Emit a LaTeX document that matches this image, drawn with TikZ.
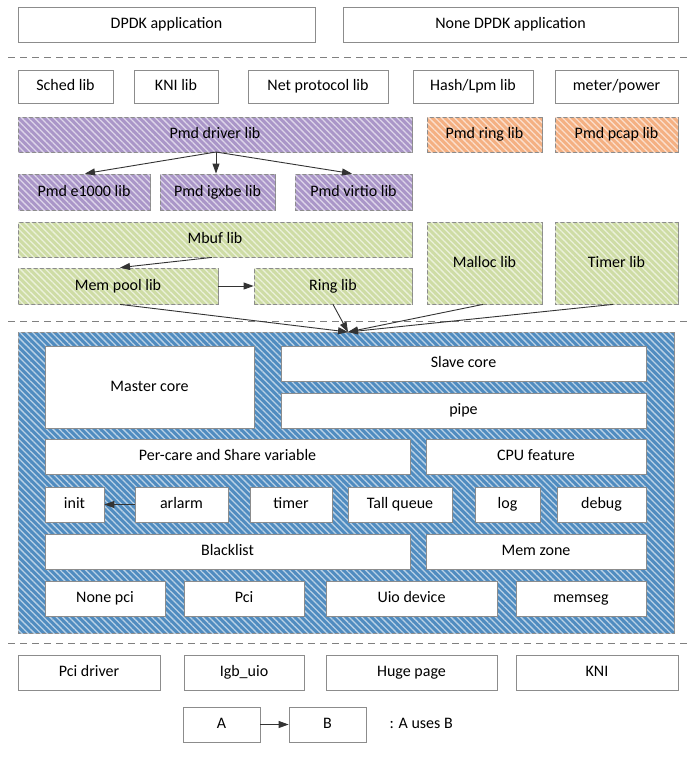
\documentclass[tikz,border=0pt]{standalone}
\usepackage{fontspec}
\setmainfont{Carlito}
\usetikzlibrary{patterns.meta,arrows.meta}
\definecolor{pur}{RGB}{170,150,200}
\definecolor{org}{RGB}{244,176,130}
\definecolor{grn}{RGB}{206,220,165}
\definecolor{blu}{RGB}{80,140,192}
\definecolor{bord}{RGB}{140,140,140}
\tikzset{
 hatch/.style={postaction={pattern={Lines[angle=-45,distance=4.5pt,line width=1.3pt]},pattern color=white!60!#1}},
 bx/.style={draw=bord,line width=0.8pt,fill=white,inner sep=0pt,font=\fontsize{16}{18}\selectfont,text height=11pt,text depth=3pt},
 hbx/.style={bx,fill=#1,hatch=#1},
 arr/.style={-{Triangle[length=10pt,width=7pt]},line width=0.9pt,draw=black!80},
 sep/.style={dashed,draw=gray,line width=1pt,dash pattern=on 7pt off 5pt},
}
\begin{document}
\begin{tikzpicture}[x=1pt,y=-1pt]
\useasboundingbox (0,0) rectangle (697,758);
\def\B#1#2#3#4#5#6#7{\node[#1,minimum width={(#4-#3)*1pt},minimum height={(#6-#5)*1pt}] (#2) at ({(#3+#4)/2},{(#5+#6)/2}) {#7};}
\B{bx}{dpdk}{18}{315}{7}{42}{DPDK application}
\B{bx}{ndpdk}{343}{678}{7}{42}{None DPDK application}
\draw[sep] (8,57) -- (688,57);
\B{bx}{sched}{18}{113}{70}{103}{Sched lib}
\B{bx}{kni}{134}{218}{70}{103}{KNI lib}
\B{bx}{net}{248}{388}{70}{103}{Net protocol lib}
\B{bx}{hash}{413}{533}{70}{103}{Hash/Lpm lib}
\B{bx}{meter}{555}{678}{70}{103}{meter/power}
\B{hbx=pur}{pmd}{18}{412}{117}{152}{Pmd driver lib}
\B{hbx=org}{pring}{427}{542}{117}{152}{Pmd ring lib}
\B{hbx=org}{ppcap}{555}{678}{117}{152}{Pmd pcap lib}
\B{hbx=pur}{e1000}{18}{150}{174}{210}{Pmd e1000 lib}
\B{hbx=pur}{igxbe}{160}{275}{174}{210}{Pmd igxbe lib}
\B{hbx=pur}{virtio}{295}{412}{174}{210}{Pmd virtio lib}
\B{hbx=grn}{mbuf}{18}{412}{222}{257}{Mbuf lib}
\B{hbx=grn}{mempool}{18}{218}{268}{304}{Mem pool lib}
\B{hbx=grn}{ring}{254}{412}{268}{304}{Ring lib}
\B{hbx=grn}{malloc}{427}{542}{222}{304}{Malloc lib}
\B{hbx=grn}{timerlib}{555}{678}{222}{304}{Timer lib}
\draw[sep] (8,321) -- (688,321);
\B{hbx=blu}{eal}{18}{674}{332}{633}{}
\B{bx}{master}{45}{254}{346}{428}{Master core}
\B{bx}{slave}{281}{646}{346}{381}{Slave core}
\B{bx}{pipe}{281}{646}{393}{428}{pipe}
\B{bx}{percore}{45}{410}{439}{474}{Per-care and Share variable}
\B{bx}{cpu}{426}{646}{439}{474}{CPU feature}
\B{bx}{init}{45}{104}{487}{522}{init}
\B{bx}{alarm}{135}{228}{487}{522}{arlarm}
\B{bx}{timer}{250}{332}{487}{522}{timer}
\B{bx}{tall}{348}{452}{487}{522}{Tall queue}
\B{bx}{log}{475}{540}{487}{522}{log}
\B{bx}{debug}{557}{646}{487}{522}{debug}
\B{bx}{black}{45}{410}{534}{569}{Blacklist}
\B{bx}{memzone}{426}{646}{534}{569}{Mem zone}
\B{bx}{nonepci}{45}{165}{581}{616}{None pci}
\B{bx}{pci}{184}{304}{581}{616}{Pci}
\B{bx}{uio}{326}{497}{581}{616}{Uio device}
\B{bx}{memseg}{516}{646}{581}{616}{memseg}
\draw[sep] (8,643) -- (688,643);
\B{bx}{pcidrv}{18}{160}{655}{690}{Pci driver}
\B{bx}{igb}{184}{304}{655}{690}{Igb\_uio}
\B{bx}{huge}{326}{497}{655}{690}{Huge page}
\B{bx}{knim}{516}{678}{655}{690}{KNI}
\B{bx}{A}{183}{260}{707}{742}{A}
\B{bx}{Bn}{289}{366}{707}{742}{B}
\node[font=\fontsize{16}{18}\selectfont,anchor=west,text height=11pt,text depth=3pt] (legend) at (386,724.5) {: A uses B};
\coordinate (pd) at (216,152);
\draw[arr] (pd) -- (e1000.north -| 85,0);
\draw[arr] (pd) -- (igxbe.north -| 216,0);
\draw[arr] (pd) -- (virtio.north -| 352,0);
\draw[arr] (mbuf.south -| 212,0) -- (mempool.north -| 120,0);
\draw[arr] (mempool) -- (ring);
\coordinate (tgt) at (348,332);
\draw[arr] (mempool.south -| 120,0) -- (tgt);
\draw[arr] (ring.south -| 333,0) -- (tgt);
\draw[arr] (malloc.south -| 483,0) -- (tgt);
\draw[arr] (timerlib.south -| 613,0) -- (tgt);
\draw[arr] (alarm) -- (init);
\draw[arr] (A) -- (Bn);
\end{tikzpicture}
\end{document}
